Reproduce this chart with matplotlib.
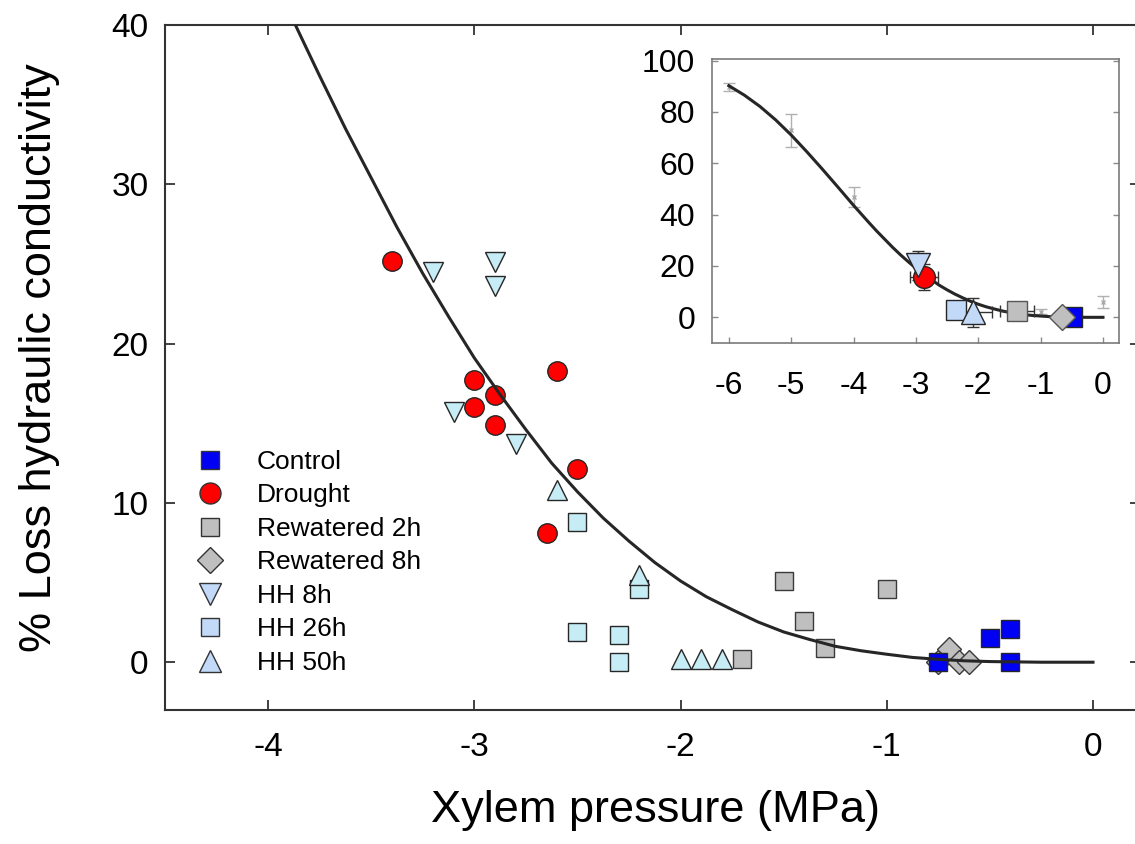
import matplotlib
matplotlib.use('Agg')
import matplotlib.pyplot as plt
from matplotlib.lines import Line2D

plt.rcParams['font.family'] = ['Liberation Sans', 'DejaVu Sans']
plt.rcParams['axes.unicode_minus'] = False

# ---- vulnerability curve ----
CURVE_P = [-6.0, -5.75, -5.5, -5.25, -5.0, -4.75, -4.5, -4.25, -4.0, -3.875, -3.75, -3.625,
           -3.5, -3.375, -3.25, -3.125, -3.0, -2.875, -2.75, -2.625, -2.5, -2.375, -2.25,
           -2.125, -2.0, -1.875, -1.75, -1.625, -1.5, -1.375, -1.25, -1.125, -1.0, -0.875,
           -0.75, -0.625, -0.5, -0.25, 0.0]
CURVE_PLC = [90.2, 86.5, 82.1, 76.9, 71.0, 64.5, 57.7, 50.7, 43.6, 40.2, 36.8, 33.5,
             30.4, 27.3, 24.4, 21.7, 19.1, 16.8, 14.6, 12.5, 10.7, 9.05, 7.6,
             6.26, 5.1, 4.11, 3.3, 2.53, 1.9, 1.43, 1.0, 0.72, 0.5, 0.30,
             0.18, 0.09, 0.04, 0.0, 0.0]

# ---- main panel: individual measurements ----
CONTROL_X = [-0.75, -0.5, -0.4, -0.4]
CONTROL_Y = [0.0, 1.5, 2.1, 0.0]
DROUGHT_X = [-3.4, -3.0, -3.0, -2.9, -2.9, -2.6, -2.5, -2.65]
DROUGHT_Y = [25.2, 17.7, 16.0, 16.8, 14.9, 18.3, 12.1, 8.1]
REW2_X = [-1.7, -1.5, -1.4, -1.3, -1.0]
REW2_Y = [0.2, 5.1, 2.6, 0.9, 4.6]
REW8_X = [-0.75, -0.7, -0.65, -0.6]
REW8_Y = [0.0, 0.8, 0.0, 0.0]
HH8_X = [-3.2, -2.9, -2.9, -3.1, -2.8]
HH8_Y = [24.5, 25.1, 23.6, 15.7, 13.7]
HH26_X = [-2.5, -2.5, -2.3, -2.3, -2.2]
HH26_Y = [8.8, 1.9, 1.7, 0.0, 4.6]
HH50_X = [-2.6, -2.2, -2.0, -1.9, -1.8]
HH50_Y = [10.8, 5.5, 0.2, 0.2, 0.2]

# ---- inset: reference curve points and treatment means ----
BG_X = [-6, -5, -4, -1, 0]
BG_Y = [89.6, 72.8, 46.8, 2.1, 6.0]
BG_ERR = [1.6, 6.4, 4.0, 1.0, 2.4]

MEAN_LABELS = ['Control', 'Drought', 'Rewatered 2h', 'Rewatered 8h', 'HH 8h', 'HH 26h', 'HH 50h']
MEAN_X = [-0.5, -2.87, -1.38, -0.65, -2.96, -2.35, -2.09]
MEAN_Y = [0.0, 15.7, 2.5, 0.0, 20.2, 2.7, 1.9]
MEAN_XERR = [0.0, 0.23, 0.27, 0.0, 0.0, 0.0, 0.31]
MEAN_YERR = [0.0, 4.9, 0.0, 0.0, 5.6, 0.0, 5.7]

BLUE = '#0000f5'
RED = '#ff0000'
GRAY = '#bfbfbf'
CYAN = '#c6ecf6'
LBLUE = '#c2d9f7'
EDGE = '#262626'

STYLE = {
    'Control':      dict(marker='s', color=BLUE, ms=12.5),
    'Drought':      dict(marker='o', color=RED, ms=14),
    'Rewatered 2h': dict(marker='s', color=GRAY, ms=12.5),
    'Rewatered 8h': dict(marker='D', color=GRAY, ms=12),
    'HH 8h':        dict(marker='v', color=CYAN, ms=15),
    'HH 26h':       dict(marker='s', color=CYAN, ms=12.5),
    'HH 50h':       dict(marker='^', color=CYAN, ms=15),
}

fig = plt.figure(figsize=(11.35, 8.44), dpi=100)
ax = fig.add_axes([165 / 1135, 134 / 844, 975 / 1135, 685 / 844])

series = [
    ('Rewatered 8h', REW8_X, REW8_Y),
    ('Control', CONTROL_X, CONTROL_Y),
    ('Drought', DROUGHT_X, DROUGHT_Y),
    ('Rewatered 2h', REW2_X, REW2_Y),
    ('HH 8h', HH8_X, HH8_Y),
    ('HH 26h', HH26_X, HH26_Y),
    ('HH 50h', HH50_X, HH50_Y),
]
for name, xs, ys in series:
    st = STYLE[name]
    ec = '#3a3a3a' if st['color'] == GRAY else EDGE
    ax.plot(xs, ys, linestyle='none', marker=st['marker'], ms=st['ms'],
            mfc=st['color'], mec=ec, mew=1.0, zorder=3)

ax.plot(CURVE_P, CURVE_PLC, color='#262626', lw=2.2, zorder=4)

ax.set_xlim(-4.5, 0.228)
ax.set_ylim(-3, 40)
ax.set_xticks([-4, -3, -2, -1, 0])
ax.set_yticks([0, 10, 20, 30, 40])
ax.tick_params(direction='in', length=7, width=1.3, top=True, right=True,
               labelsize=24, pad=16, color='#333333')
ax.tick_params(axis='y', pad=12)
for sp in ax.spines.values():
    sp.set_linewidth(1.5)
    sp.set_color('#333333')

ax.set_xlabel('Xylem pressure (MPa)', fontsize=32.5)
ax.set_ylabel('% Loss hydraulic conductivity', fontsize=32.5)
ax.xaxis.set_label_coords(0.503, -0.117)
ax.yaxis.set_label_coords(-0.108, 0.515)

# legend with its own proxy markers
legend_colors = {'HH 8h': LBLUE, 'HH 26h': LBLUE, 'HH 50h': LBLUE}
handles = []
for name in MEAN_LABELS:
    st = STYLE[name]
    handles.append(Line2D([], [], linestyle='none', marker=st['marker'], ms=st['ms'] * 1.08,
                          mfc=legend_colors.get(name, st['color']), mec='#333333', mew=1.0,
                          label=name))
ax.legend(handles=handles, loc='upper left', bbox_to_anchor=(0.008, 0.395), frameon=False,
          fontsize=19, labelspacing=0.36, handletextpad=0.78, borderaxespad=0)

# ---- inset ----
ins = fig.add_axes([712 / 1135, 501 / 844, 407 / 1135, 284 / 844])
ins.errorbar(BG_X, BG_Y, yerr=BG_ERR, fmt='x', ms=3, color='#a8a8a8', ecolor='#b0b0b0',
             elinewidth=1, capsize=4, zorder=2)
ins.plot(CURVE_P, CURVE_PLC, color='#262626', lw=2.2, zorder=3)

inset_order = ['Control', 'Rewatered 8h', 'Rewatered 2h', 'HH 26h', 'HH 50h', 'Drought', 'HH 8h']
for name in inset_order:
    i = MEAN_LABELS.index(name)
    st = STYLE[name]
    col = LBLUE if name.startswith('HH') else st['color']
    ec = '#555555' if st['color'] == GRAY else EDGE
    xe = MEAN_XERR[i] if MEAN_XERR[i] > 0 else None
    ye = MEAN_YERR[i] if MEAN_YERR[i] > 0 else None
    ins.errorbar([MEAN_X[i]], [MEAN_Y[i]], xerr=xe, yerr=ye, fmt='none',
                 ecolor='#333333', elinewidth=1, capsize=4, zorder=4)
    ins.plot([MEAN_X[i]], [MEAN_Y[i]], linestyle='none', marker=st['marker'],
             ms=st['ms'] * 1.12, mfc=col, mec=ec, mew=1.0, zorder=5)

ins.set_xlim(-6.27, 0.257)
ins.set_ylim(-10, 100.6)
ins.set_xticks([-6, -5, -4, -3, -2, -1, 0])
ins.set_yticks([0, 20, 40, 60, 80, 100])
ins.tick_params(direction='in', length=4, width=1, right=True, labelsize=23,
                color='#8a8a8a', pad=12)
ins.tick_params(axis='x', pad=20)
for sp in ins.spines.values():
    sp.set_linewidth(1.2)
    sp.set_color('#7a7a7a')

fig.savefig('out.png', dpi=100)
